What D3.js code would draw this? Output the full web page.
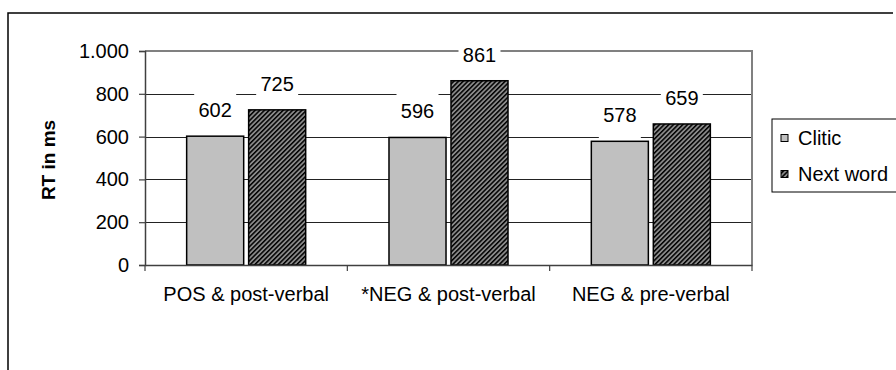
<!DOCTYPE html>
<html><head><meta charset="utf-8">
<script src="https://cdn.jsdelivr.net/npm/d3@7"></script>
<style>
html,body{margin:0;padding:0;background:#fff;}
svg{display:block;font-family:"Liberation Sans",Arial,sans-serif;}
</style></head>
<body>
<svg id="chart" width="896" height="370"></svg>
<script>
const categories = ["POS & post-verbal", "*NEG & post-verbal", "NEG & pre-verbal"];
const seriesNames = ["Clitic", "Next word"];
const cliticValues = [602, 596, 578];
const nextWordValues = [725, 861, 659];
const yTicks = [0, 200, 400, 600, 800, 1000];
const yTitle = "RT in ms";

(function(){
const FS = 20;
const svg = d3.select("#chart");
const defs = svg.append("defs");
const pat = defs.append("pattern").attr("id","hatch").attr("patternUnits","userSpaceOnUse")
  .attr("width",3.3).attr("height",10).attr("patternTransform","rotate(45)");
pat.append("rect").attr("width",3.3).attr("height",10).attr("fill","#8a8a8a");
pat.append("rect").attr("width",1.5).attr("height",10).attr("fill","#000");

// outer frame
svg.append("path").attr("d","M8,370 V13 H893").attr("fill","none").attr("stroke","#000").attr("stroke-width",1.5);

const pLeft = 145, pRight = 752, pTop = 51, pBottom = 265;
const x = d3.scaleBand().domain(categories).range([pLeft, pRight]).padding(0);
const x1 = d3.scaleBand().domain(seriesNames).range([0, x.bandwidth()]).paddingInner(0.08).paddingOuter(0.672);
const y = d3.scaleLinear().domain([0, 1000]).range([pBottom, pTop]);
const loc = d3.formatLocale({decimal:",", thousands:".", grouping:[3], currency:["",""]});
const fmt = loc.format(",");

// gridlines
svg.append("g").selectAll("line").data(yTicks.filter(t => t > 0 && t < 1000)).join("line")
  .attr("x1", pLeft).attr("x2", pRight).attr("y1", d => Math.round(y(d)) + 0.5).attr("y2", d => Math.round(y(d)) + 0.5)
  .attr("stroke", "#222").attr("stroke-width", 1);
// plot border top/right
svg.append("path").attr("d", `M${pLeft},${y(1000)} H${pRight} V${pBottom}`).attr("fill","none")
  .attr("stroke","#808080").attr("stroke-width",2);

const data = categories.map((c, i) => ({cat: c, vals: [
  {s: seriesNames[0], v: cliticValues[i]}, {s: seriesNames[1], v: nextWordValues[i]}]}));

const groups = svg.append("g").selectAll("g").data(data).join("g")
  .attr("transform", d => `translate(${x(d.cat)},0)`);
groups.selectAll("rect.lb").data(d => d.vals).join("rect").attr("class","lb")
  .attr("x", d => x1(d.s) + x1.bandwidth()/2 - 21)
  .attr("y", d => y(d.v) - 19 - 27).attr("width", 42).attr("height", 43)
  .attr("fill", "#fff");
groups.selectAll("rect.bar").data(d => d.vals).join("rect").attr("class","bar")
  .attr("x", d => x1(d.s)).attr("width", x1.bandwidth())
  .attr("y", d => y(d.v)).attr("height", d => y(0) - y(d.v))
  .attr("fill", d => d.s === seriesNames[0] ? "#c0c0c0" : "url(#hatch)")
  .attr("stroke", "#000").attr("stroke-width", 1.5);
groups.selectAll("text").data(d => d.vals).join("text")
  .attr("x", d => x1(d.s) + x1.bandwidth()/2).attr("y", d => y(d.v) - 19)
  .attr("text-anchor","middle").attr("font-size", FS).attr("fill","#000")
  .text(d => fmt(d.v));

// y axis
const yAxis = svg.append("g").attr("transform", `translate(${pLeft},0)`)
  .call(d3.axisLeft(y).tickValues(yTicks).tickFormat(fmt).tickSize(6).tickPadding(10));
yAxis.select(".domain").attr("stroke","#404040").attr("stroke-width",1.5);
yAxis.selectAll(".tick line").attr("stroke","#404040").attr("stroke-width",1.2);
yAxis.selectAll("text").attr("font-size",FS).attr("fill","#000").attr("font-family","Liberation Sans, Arial, sans-serif");

// x axis
const xAxis = svg.append("g").attr("transform", `translate(0,${pBottom})`)
  .call(d3.axisBottom(x).tickSize(0).tickPadding(22));
xAxis.select(".domain").attr("stroke","#404040").attr("stroke-width",1.5);
xAxis.selectAll("text").attr("font-size",FS).attr("fill","#000").attr("font-family","Liberation Sans, Arial, sans-serif");
svg.append("g").selectAll("line").data(categories.map(c => x(c)).concat([pRight])).join("line")
  .attr("x1", d => d).attr("x2", d => d).attr("y1", pBottom).attr("y2", pBottom + 6)
  .attr("stroke","#404040").attr("stroke-width",1.2);

// y title
svg.append("text").attr("transform", `translate(55,160) rotate(-90)`).attr("text-anchor","middle")
  .attr("font-size",19).attr("font-weight","bold").text(yTitle);

// legend
const lg = svg.append("g");
lg.append("rect").attr("x",772).attr("y",119).attr("width",130).attr("height",73)
  .attr("fill","#fff").attr("stroke","#000").attr("stroke-width",1);
const li = lg.selectAll("g").data(seriesNames).join("g")
  .attr("transform", (d,i) => `translate(0,${[138,174][i]})`);
li.append("rect").attr("x",781).attr("y",-3.5).attr("width",7).attr("height",7)
  .attr("fill", (d,i) => i === 0 ? "#c0c0c0" : "url(#hatch)").attr("stroke","#000").attr("stroke-width",1);
li.append("text").attr("x",798).attr("y",7).attr("font-size",FS).text(d => d);
})();
</script>
</body></html>
